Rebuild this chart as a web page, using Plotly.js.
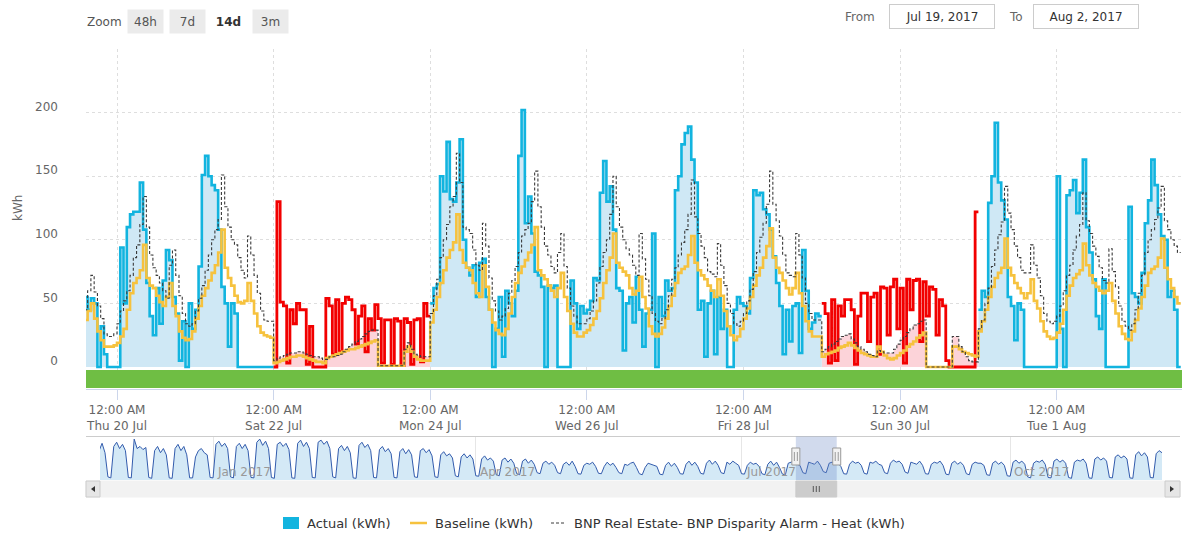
<!DOCTYPE html>
<html><head><meta charset="utf-8">
<script src="https://cdn.plot.ly/plotly-3.0.1.min.js"></script>
<style>html,body{margin:0;padding:0;background:#fff}#chart{width:1182px;height:534px}</style>
</head><body><div id="chart"></div>
<script>
// ---------------- DATA (hourly, starting Jul 19 2017 14:00) ----------------
const seriesStart = '2017-07-19 14:00';
const actual = [
55,45,54,50,0,32,10,0,0,0,
0,94,50,110,120,122,122,145,108,66,40,25,62,34,68,92,84,55,42,5,36,0,50,30,
45,79,151,166,150,143,139,108,63,50,16,50,42,0,0,0,0,0,0,0,0,0,0,0,
0,130,51,48,3,45,34,50,45,45,2,32,0,0,0,0,54,48,10,53,12,50,55,53,45,18,40,48,12,38,29,49,38,3,37,37,2,38,36,1,38,35,2,37,38,4,50,40,
50,62,65,150,138,177,132,130,145,179,100,78,72,80,55,82,85,55,45,0,30,55,8,60,
50,40,60,166,202,113,134,105,75,72,63,0,64,62,64,0,0,0,0,68,50,30,48,42,
45,52,70,68,137,162,130,142,108,62,60,13,50,55,35,71,45,16,42,45,105,0,55,40,
68,60,62,139,150,175,184,189,163,145,45,52,8,50,60,10,55,30,45,0,0,45,55,50,
48,42,70,139,135,137,124,120,108,87,66,48,10,45,20,48,50,11,92,60,30,35,42,40,
50,42,3,53,5,48,40,53,53,45,2,40,58,58,20,55,58,10,63,62,25,63,69,30,62,3,69,45,68,69,20,67,40,63,61,25,53,48,5,0,0,0,0,0,0,0,0,122,
45,60,55,129,150,192,145,131,116,55,48,21,50,45,0,0,0,0,0,0,0,0,0,0,
150,30,0,135,139,147,121,137,163,110,90,69,40,30,69,0,0,0,0,0,0,0,126,58,
55,50,74,113,131,163,143,120,103,100,55,60,45,0
];
const baseline = [
37,44,50,38,28,21,16,16,16,17,
19,24,30,45,58,66,70,76,96,70,64,62,56,51,48,55,66,48,40,28,23,21,22,28,
38,48,56,62,68,74,80,90,108,78,70,64,56,51,50,52,66,52,42,32,27,25,24,23,
3,4,5,6,7,8,8,9,9,8,7,6,5,4,4,3,7,8,9,10,11,12,13,14,14,15,16,17,18,19,20,21,1,1,1,1,1,1,1,1,12,16,12,8,6,5,5,5,
35,45,55,66,76,86,92,98,120,92,82,78,76,66,58,55,80,63,45,35,29,26,25,30,
42,55,66,74,79,84,90,96,110,76,72,69,64,60,55,62,74,55,44,34,27,24,24,27,
29,33,38,44,54,66,76,86,105,82,78,75,72,62,57,60,71,55,46,32,26,24,26,31,
38,48,56,66,74,77,79,88,103,82,76,72,69,64,60,55,69,56,44,32,25,21,24,30,
38,46,55,64,72,78,86,95,109,86,78,74,68,62,57,62,74,58,48,36,28,24,24,24,
8,10,11,12,13,15,16,17,19,17,15,13,11,10,9,8,8,16,12,9,7,6,7,9,11,13,16,18,20,23,25,27,0,0,0,0,0,0,0,0,16,16,14,12,11,10,9,8,
28,36,45,55,63,70,74,78,101,78,72,66,62,58,54,58,69,52,46,36,28,24,22,23,
27,34,45,56,64,70,73,76,97,80,72,66,63,60,58,60,66,52,42,32,26,22,21,28,
37,46,55,64,74,77,79,86,101,78,69,62,55,50
];
const heat = [
45,60,72,59,48,38,26,24,24,26,
34,44,52,60,72,86,96,112,134,110,88,78,72,66,60,54,80,92,72,56,42,34,32,34,
44,54,64,76,88,100,108,116,151,126,110,100,96,86,76,70,103,88,72,58,44,37,36,36,
5,7,8,9,10,11,11,12,12,11,10,9,8,8,7,6,6,8,8,9,10,12,14,16,18,20,22,24,26,28,29,29,1,1,1,1,1,1,1,1,14,19,14,10,9,8,8,8,
42,56,69,86,100,112,126,134,168,145,110,108,105,92,80,76,113,95,70,52,44,37,40,46,
58,68,79,90,103,108,113,130,154,126,110,95,88,79,74,90,105,79,62,48,40,34,34,34,
38,44,52,66,79,90,100,120,150,126,110,100,93,88,80,72,105,85,69,56,42,36,34,38,
45,56,69,78,88,98,108,120,147,118,105,95,86,75,73,71,97,80,64,50,42,34,32,36,
42,52,61,75,90,102,113,128,154,128,115,103,88,74,72,71,105,88,70,50,42,37,37,37,
12,14,16,18,20,22,24,25,26,22,19,16,14,12,10,9,8,13,12,11,11,11,14,18,21,24,27,30,33,34,36,37,0,0,0,0,0,0,0,0,24,24,16,12,8,5,4,4,
30,37,50,62,79,92,104,114,142,121,108,95,86,76,74,74,96,80,70,56,42,36,34,36,
40,48,60,72,80,92,103,112,137,115,105,95,87,78,68,66,93,75,63,48,36,32,29,34,
45,58,72,90,100,108,116,125,142,115,108,100,95,90
];
const alarmZones = [['2017-07-22 00:00','2017-07-24 00:00'],['2017-07-29 00:00','2017-07-31 00:00']];
const viewRange = ['2017-07-19 14:30','2017-08-02 14:24'];
const xTickVals = ['2017-07-20','2017-07-22','2017-07-24','2017-07-26','2017-07-28','2017-07-30','2017-08-01'];
const xTickText = ['12:00 AM<br>Thu 20 Jul','12:00 AM<br>Sat 22 Jul','12:00 AM<br>Mon 24 Jul','12:00 AM<br>Wed 26 Jul','12:00 AM<br>Fri 28 Jul','12:00 AM<br>Sun 30 Jul','12:00 AM<br>Tue 1 Aug'];
const yTickVals = [0,50,100,150,200,250];
const yTickText = ['0','50','100','150','200',''];
const seriesNames = ['Actual (kWh)','Baseline (kWh)','BNP Real Estate- BNP Disparity Alarm - Heat (kWh)'];
const zoomButtons = ['48h','7d','14d','3m'];
const fromLabel = 'Jul 19, 2017', toLabel = 'Aug 2, 2017';

// navigator: daily values, starting Mon Nov 21 2016
const navStart = '2016-11-21';
const navRange = ['2016-11-23 07:00','2017-11-22 00:00'];
const navValues = [
150,165,140,175,130,15,10, 160,180,150,170,140,12,10, 195,150,160,145,155,12,8, 140,160,130,150,120,10,8,
150,170,140,160,120,10,10, 110,140,150,130,120,12,10, 170,185,160,175,150,15,10, 160,175,150,170,140,12,10,
180,195,165,185,150,12,8, 170,180,160,175,145,10,8, 175,190,160,180,150,12,10, 180,190,170,185,150,15,10,
150,165,140,160,130,10,8, 165,180,155,170,140,12,10, 145,160,135,150,125,12,10, 135,150,125,145,120,15,12,
140,150,130,145,115,15,12, 120,135,115,125,105,20,15, 110,125,105,120,100,20,18, 100,115,95,105,90,25,20,
95,105,85,100,80,30,25, 90,100,80,95,75,35,30, 80,90,75,85,70,35,30, 75,85,70,90,65,30,28,
70,80,75,85,65,32,30, 65,85,70,80,60,35,30, 75,70,80,85,60,30,25, 60,80,75,70,65,28,25,
70,85,65,80,60,30,28, 75,90,70,85,65,32,28, 80,95,75,90,70,35,30, 85,75,90,80,70,30,28,
70,85,75,80,65,30,25, 75,90,70,85,60,28,25, 80,85,90,75,70,35,30, 85,80,75,90,70,40,35,
80,85,75,80,65,30,28, 75,90,80,85,70,32,28, 85,80,90,75,70,35,30, 80,95,85,90,75,38,32,
85,80,75,90,70,30,28, 75,85,80,90,70,28,25, 80,90,75,85,70,30,25, 75,85,80,80,70,25,22,
80,90,75,85,70,20,18, 85,95,80,90,75,15,10, 80,90,85,95,75,12,10, 90,100,85,95,80,12,8,
85,95,90,100,80,10,8, 100,110,95,105,90,12,10, 110,120,105,115,100,10,8, 120,135,115,130,110,12,10,
125,140,130
];
const navTickVals = ['2017-01-01','2017-04-01','2017-07-01','2017-10-01'];
const navTickText = ['Jan 2017','Apr 2017','Jul 2017','Oct 2017'];

// ---------------- helpers ----------------
const HOUR = 3600000, DAY = 86400000;
function parseUTC(s){const p=s.split(' ');const d=p[0].split('-').map(Number);const t=(p[1]||'00:00').split(':').map(Number);return Date.UTC(d[0],d[1]-1,d[2],t[0],t[1]);}
function fmt(ms){return new Date(ms).toISOString().slice(0,16).replace('T',' ');}
const t0 = parseUTC(seriesStart);
const n = actual.length;
const tms = []; for(let i=0;i<=n;i++) tms.push(t0+i*HOUR);
const zonesMs = alarmZones.map(z=>[parseUTC(z[0]),parseUTC(z[1])]);
const inAlarm = tms.slice(0,n).map(ms=>zonesMs.some(z=>ms>=z[0]&&ms<z[1]));
function seg(vals,s,e){const x=[],y=[];for(let i=s;i<=e;i++){x.push(fmt(tms[i]));y.push(vals[i]);}x.push(fmt(tms[e+1]));y.push(vals[e]);return {x,y};}
const runs=[];{let s=0;for(let i=1;i<=n;i++){if(i===n||inAlarm[i]!==inAlarm[s]){runs.push({s,e:i-1,alarm:inAlarm[s]});s=i;}}}

const BLUE='#12b4df', BLUEFILL='#cfe8f5', RED='#f20000', PINK='#fcd3d9', YELLOW='#f6c23e', GREY='#3a3a3a';
const traces=[];
runs.filter(r=>r.alarm).forEach(r=>{const d=seg(heat,r.s,r.e);traces.push({type:'scatter',mode:'lines',x:d.x,y:d.y,line:{shape:'hv',width:0,simplify:false},fill:'tozeroy',fillcolor:PINK,hoverinfo:'skip',showlegend:false});});
runs.forEach(r=>{const d=seg(actual,r.s,r.e);
  if(r.alarm) traces.push({type:'scatter',mode:'lines',name:seriesNames[0],x:d.x,y:d.y,line:{shape:'hv',width:2.8,color:RED,simplify:false},showlegend:false});
  else traces.push({type:'scatter',mode:'lines',name:seriesNames[0],x:d.x,y:d.y,line:{shape:'hv',width:2.6,color:BLUE,simplify:false},fill:'tozeroy',fillcolor:BLUEFILL,showlegend:false});
});
{const d=seg(baseline,0,n-1);traces.push({type:'scatter',mode:'lines',name:seriesNames[1],x:d.x,y:d.y,line:{shape:'hv',width:2.6,color:YELLOW,simplify:false},showlegend:false});}
{const d=seg(heat,0,n-1);traces.push({type:'scatter',mode:'lines',name:seriesNames[2],x:d.x,y:d.y,line:{shape:'hv',width:1.1,color:GREY,dash:'3px,2px',simplify:false},showlegend:false});}
// navigator
const n0=parseUTC(navStart);
traces.push({type:'scatter',mode:'lines',x:navValues.map((_,i)=>fmt(n0+i*DAY)),y:navValues,xaxis:'x2',yaxis:'y2',line:{color:'#335cad',width:1,simplify:false},fill:'tozeroy',fillcolor:'#d4e9f6',hoverinfo:'skip',showlegend:false});

// ---------------- layout ----------------
const W=1182,H=534,L=86;
const px=p=>(p-L)/(W-L);
const py=p=>1-p/H;
const FONT='DejaVu Sans, Verdana, sans-serif';
const shapes=[];
const ann=[];
// green status band
shapes.push({type:'rect',xref:'paper',yref:'y',x0:0,x1:1,y0:-2.4,y1:-16.5,fillcolor:'#6fbe44',line:{width:0},layer:'above'});
// navigator decorations
shapes.push({type:'line',xref:'paper',yref:'paper',x0:px(86),x1:px(1180),y0:py(436.5),y1:py(436.5),line:{color:'#cccccc',width:1}});
shapes.push({type:'rect',xref:'x2',yref:'paper',x0:viewRange[0],x1:viewRange[1],y0:py(480),y1:py(436.5),fillcolor:'rgba(102,133,194,0.3)',line:{width:0},layer:'above'});
shapes.push({type:'rect',xref:'paper',yref:'paper',x0:px(86),x1:px(1180),y0:py(497),y1:py(481),fillcolor:'#f2f2f2',line:{color:'#f2f2f2',width:1}});
shapes.push({type:'rect',xref:'paper',yref:'paper',x0:px(86),x1:px(100),y0:py(497),y1:py(481),fillcolor:'#e6e6e6',line:{color:'#cccccc',width:1}});
shapes.push({type:'rect',xref:'paper',yref:'paper',x0:px(1165),x1:px(1180),y0:py(497),y1:py(481),fillcolor:'#e6e6e6',line:{color:'#cccccc',width:1}});
function pathPx(pts){return 'M '+pts.map(p=>px(p[0])+' '+py(p[1])).join(' L ')+' Z';}
shapes.push({type:'path',xref:'paper',yref:'paper',path:pathPx([[95,486],[91,489],[95,492]]),fillcolor:'#333',line:{width:0}});
shapes.push({type:'path',xref:'paper',yref:'paper',path:pathPx([[1170,486],[1174,489],[1170,492]]),fillcolor:'#333',line:{width:0}});
shapes.push({type:'rect',xref:'x2',yref:'paper',x0:viewRange[0],x1:viewRange[1],y0:py(497),y1:py(481),fillcolor:'#cccccc',line:{color:'#cccccc',width:1}});
const midView=fmt((parseUTC(viewRange[0])+parseUTC(viewRange[1]))/2);
[-3,0,3].forEach(o=>shapes.push({type:'line',xref:'x2',xsizemode:'pixel',xanchor:midView,x0:o,x1:o,yref:'paper',y0:py(492),y1:py(486),line:{color:'#555',width:1}}));
viewRange.forEach(v=>{
  shapes.push({type:'rect',xref:'x2',xsizemode:'pixel',xanchor:v,x0:-4,x1:4,yref:'paper',y0:py(465),y1:py(448),fillcolor:'#f2f2f2',line:{color:'#999999',width:1},layer:'above'});
  [-1.5,1.5].forEach(o=>shapes.push({type:'line',xref:'x2',xsizemode:'pixel',xanchor:v,x0:o,x1:o,yref:'paper',y0:py(461),y1:py(452),line:{color:'#999999',width:1},layer:'above'}));
});
navTickVals.forEach((v,i)=>ann.push({xref:'x2',x:v,xanchor:'left',xshift:2,yref:'paper',y:py(472),yanchor:'middle',text:navTickText[i],showarrow:false,font:{family:FONT,size:12,color:'#999'}}));
// top controls
ann.push({xref:'paper',yref:'paper',x:px(85),y:py(21.5),xanchor:'left',yanchor:'middle',text:'Zoom',showarrow:false,font:{family:FONT,size:12,color:'#555'}});
const btnCenters=[145.8,187.2,228.7,270.3];
zoomButtons.forEach((b,i)=>{
  const sel=(b==='14d');
  ann.push({xref:'paper',yref:'paper',x:px(btnCenters[i]),y:py(21.5),xanchor:'center',yanchor:'middle',text:sel?'<b>'+b+'</b>':b,showarrow:false,
    font:{family:FONT,size:12,color:sel?'#333':'#555'},bgcolor:sel?'rgba(0,0,0,0)':'#ebebeb',width:35,height:23,borderpad:0});
});
ann.push({xref:'paper',yref:'paper',x:px(877),y:py(16.5),xanchor:'right',yanchor:'middle',text:'From',showarrow:false,font:{family:FONT,size:12,color:'#666'}});
ann.push({xref:'paper',yref:'paper',x:px(942),y:py(16.5),xanchor:'center',yanchor:'middle',text:fromLabel,showarrow:false,font:{family:FONT,size:12,color:'#333'},bordercolor:'#cccccc',borderwidth:1,width:104,height:23,borderpad:0});
ann.push({xref:'paper',yref:'paper',x:px(1025),y:py(16.5),xanchor:'right',yanchor:'middle',text:'To',showarrow:false,font:{family:FONT,size:12,color:'#666'}});
ann.push({xref:'paper',yref:'paper',x:px(1086.3),y:py(16.5),xanchor:'center',yanchor:'middle',text:toLabel,showarrow:false,font:{family:FONT,size:12,color:'#333'},bordercolor:'#cccccc',borderwidth:1,width:104,height:23,borderpad:0});
// y axis title
ann.push({xref:'paper',yref:'paper',x:px(18),y:py(208),xanchor:'center',yanchor:'middle',text:'kWh',textangle:-90,showarrow:false,font:{family:FONT,size:12,color:'#666'}});
// legend
shapes.push({type:'rect',xref:'paper',yref:'paper',x0:px(283),x1:px(299),y0:py(529),y1:py(517),fillcolor:BLUE,line:{width:0}});
shapes.push({type:'line',xref:'paper',yref:'paper',x0:px(410),x1:px(427),y0:py(523),y1:py(523),line:{color:YELLOW,width:2.5}});
shapes.push({type:'line',xref:'paper',yref:'paper',x0:px(551),x1:px(566),y0:py(523),y1:py(523),line:{color:GREY,width:1,dash:'3px,2px'}});
[[305,0],[433,1],[572,2]].forEach(a=>ann.push({xref:'paper',yref:'paper',x:px(a[0]),y:py(523),xanchor:'left',yanchor:'middle',text:seriesNames[a[1]],showarrow:false,font:{family:FONT,size:13,color:'#333'}}));

const layout={
  width:W,height:H,margin:{l:L,r:0,t:0,b:0,pad:0},paper_bgcolor:'#ffffff',plot_bgcolor:'rgba(0,0,0,0)',
  font:{family:FONT,size:12,color:'#666'},showlegend:false,hovermode:false,
  xaxis:{type:'date',domain:[0,1],anchor:'y',range:viewRange,tickvals:xTickVals,ticktext:xTickText,showgrid:true,gridcolor:'#dedede',griddash:'dot',gridwidth:1,
    showline:true,linecolor:'#ccd6eb',linewidth:1,ticks:'outside',ticklen:10,tickcolor:'#ccd6eb',tickwidth:1,tickfont:{family:FONT,size:12,color:'#666'},zeroline:false,fixedrange:true,automargin:false},
  yaxis:{domain:[py(389),py(49)],anchor:'x',range:[-17.3,250],tickvals:yTickVals,ticktext:yTickText,showgrid:true,gridcolor:'#dedede',griddash:'dot',gridwidth:1,
    zeroline:false,showline:false,ticks:'',ticklabelstandoff:27,ticklabelshift:-6,tickfont:{family:FONT,size:12,color:'#666'},fixedrange:true,automargin:false},
  xaxis2:{type:'date',domain:[px(100),px(1162)],anchor:'y2',range:navRange,tickvals:navTickVals,showticklabels:false,showgrid:true,gridcolor:'#e6e6e6',gridwidth:1,zeroline:false,showline:false,ticks:'',fixedrange:true,automargin:false},
  yaxis2:{domain:[py(480),py(437)],anchor:'x2',range:[0,205],showgrid:false,showticklabels:false,zeroline:false,showline:false,ticks:'',fixedrange:true,automargin:false},
  shapes:shapes,annotations:ann
};
Plotly.newPlot('chart',traces,layout,{displayModeBar:false,staticPlot:true});
</script>
</body></html>
